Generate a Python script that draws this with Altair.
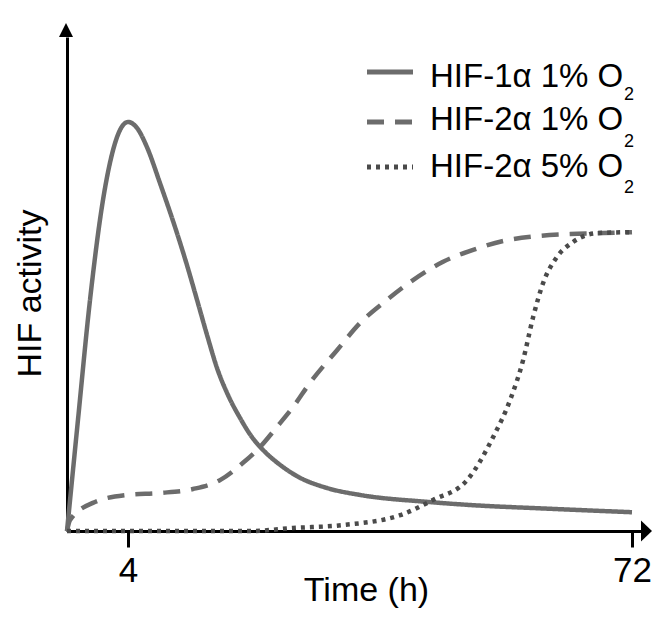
import altair as alt
import pandas as pd

# ---- data (hours, relative activity 0-100) ----
hif1_t = [0, 0.72, 1.51, 2.36, 3.02, 3.48, 4.0, 5.21, 6.56, 8.32, 10.61, 11.96, 13.31, 14.66,
          16.01, 17.5, 19.11, 20.73, 22.49, 24.51, 26.81, 30.86, 35.31, 44.35, 49.75, 60.95, 72]
hif1_y = [0, 22.5, 46.8, 67.0, 77.1, 81.2, 82.8, 81.6, 77.7, 70.4, 60.3, 53.8, 46.8, 39.7,
          33.0, 27.5, 22.9, 19.0, 16.0, 13.4, 11.1, 8.7, 7.3, 5.9, 5.3, 4.5, 3.8]

hif2_1_t = [0, 0.2, 1.7, 3.93, 8.32, 12.77, 16.42, 19.52, 21.81, 24.11, 26.27, 28.56, 32.2,
            35.31, 38.95, 42.46, 46.51, 50.56, 54.61, 59.2, 63.65, 68.1, 72]
hif2_1_y = [0, 2.2, 5.7, 7.3, 7.7, 8.5, 10.3, 13.8, 17.0, 21.1, 25.1, 30.0, 36.6,
            42.1, 46.8, 50.8, 54.5, 56.9, 58.7, 59.7, 60.1, 60.3, 60.5]

hif2_5_t = [0, 20.46, 26.27, 33.01, 40.71, 45.16, 49.75, 53.26, 55.55, 57.31, 58.66, 60.01,
            61.89, 64.05, 67.29, 72]
hif2_5_y = [0, 0, 0.6, 1.2, 3.2, 6.3, 10.3, 19.0, 26.5, 34.6, 43.3, 50.2,
            55.5, 58.5, 60.3, 60.5]

series = ["HIF-1α 1% O2", "HIF-2α 1% O2", "HIF-2α 5% O2"]
legend_main = ["HIF-1α 1% O", "HIF-2α 1% O", "HIF-2α 5% O"]
legend_sub = ["2", "2", "2"]
x_ticks = [4, 72]

rows = []
for name, ts, ys in zip(series, [hif1_t, hif2_1_t, hif2_5_t], [hif1_y, hif2_1_y, hif2_5_y]):
    for i, (t, y) in enumerate(zip(ts, ys)):
        rows.append({"series": name, "t": t, "y": y, "order": i})
df = pd.DataFrame(rows)

FONT = "Liberation Sans"
GRAY = "#6c6c6c"
DOT = "#4a4a4a"
dashes = [[1, 0], [17, 11], [4, 5]]
colors = [GRAY, GRAY, DOT]

W, H = 576, 494

xscale = alt.Scale(type="linear", domain=[0, 4, 72, 73.48], range=[0, 61, 565, 576],
                   nice=False, zero=False)
yscale = alt.Scale(domain=[0, 100], nice=False, zero=True)

lines = alt.Chart(df).mark_line(strokeWidth=4.5, interpolate="monotone", strokeCap="butt").encode(
    x=alt.X("t:Q", scale=xscale,
            axis=alt.Axis(values=x_ticks, title="Time (h)", grid=False, domainColor="black",
                          domainWidth=3, tickColor="black", tickWidth=3, tickSize=16,
                          labelFontSize=35, labelFont=FONT, labelColor="black", labelPadding=6,
                          labelFlush=False, titleFont=FONT, titleFontSize=34,
                          titleFontWeight="normal", titleColor="black", titleX=299, titleY=69,
                          titleBaseline="alphabetic", titleAlign="center")),
    y=alt.Y("y:Q", scale=yscale,
            axis=alt.Axis(ticks=False, labels=False, grid=False, domainColor="black",
                          domainWidth=3, title="HIF activity", titleFont=FONT,
                          titleFontSize=34, titleFontWeight="normal", titleColor="black",
                          titleX=-27, titleY=256, titleBaseline="alphabetic",
                          titleAlign="center", titleAngle=-90)),
    color=alt.Color("series:N", scale=alt.Scale(domain=series, range=colors), legend=None),
    strokeDash=alt.StrokeDash("series:N", scale=alt.Scale(domain=series, range=dashes), legend=None),
    detail="series:N",
    order="order:Q",
)

one = pd.DataFrame({"a": [0]})

arrow_x = alt.Chart(one).mark_point(shape="M-1,-1.9L1,0L-1,1.9Z", size=121, filled=True,
                                    color="black", opacity=1).encode(
    x=alt.value(579.5), y=alt.value(H))
arrow_y = alt.Chart(one).mark_point(shape="M-1,1L0,-1L1,1Z", size=196, filled=True,
                                    color="black", opacity=1).encode(
    x=alt.value(-1), y=alt.value(-7))

leg_layers = []
sym_y = [35, 85, 130]
txt_y = [50, 93, 140]
sub_y = [63, 110, 156]
for i in range(3):
    leg_layers.append(
        alt.Chart(one).mark_rule(color=colors[i], strokeWidth=5, strokeDash=dashes[i],
                                 strokeCap="butt").encode(
            x=alt.value(300), x2=alt.value(346), y=alt.value(sym_y[i])))
    leg_layers.append(
        alt.Chart(one).mark_text(text=legend_main[i], font=FONT, fontSize=33, align="left",
                                 baseline="alphabetic", color="black").encode(
            x=alt.value(363), y=alt.value(txt_y[i])))
    leg_layers.append(
        alt.Chart(one).mark_text(text=legend_sub[i], font=FONT, fontSize=18, align="left",
                                 baseline="alphabetic", color="black").encode(
            x=alt.value(557), y=alt.value(sub_y[i])))

chart = alt.layer(lines, arrow_x, arrow_y, *leg_layers).properties(
    width=W, height=H,
    autosize=alt.AutoSizeParams(type="none"),
    padding={"left": 59, "top": 29, "right": 9, "bottom": 78},
).configure_view(stroke=None)

chart.save("out.html", embed_options={"renderer": "svg", "actions": False})
